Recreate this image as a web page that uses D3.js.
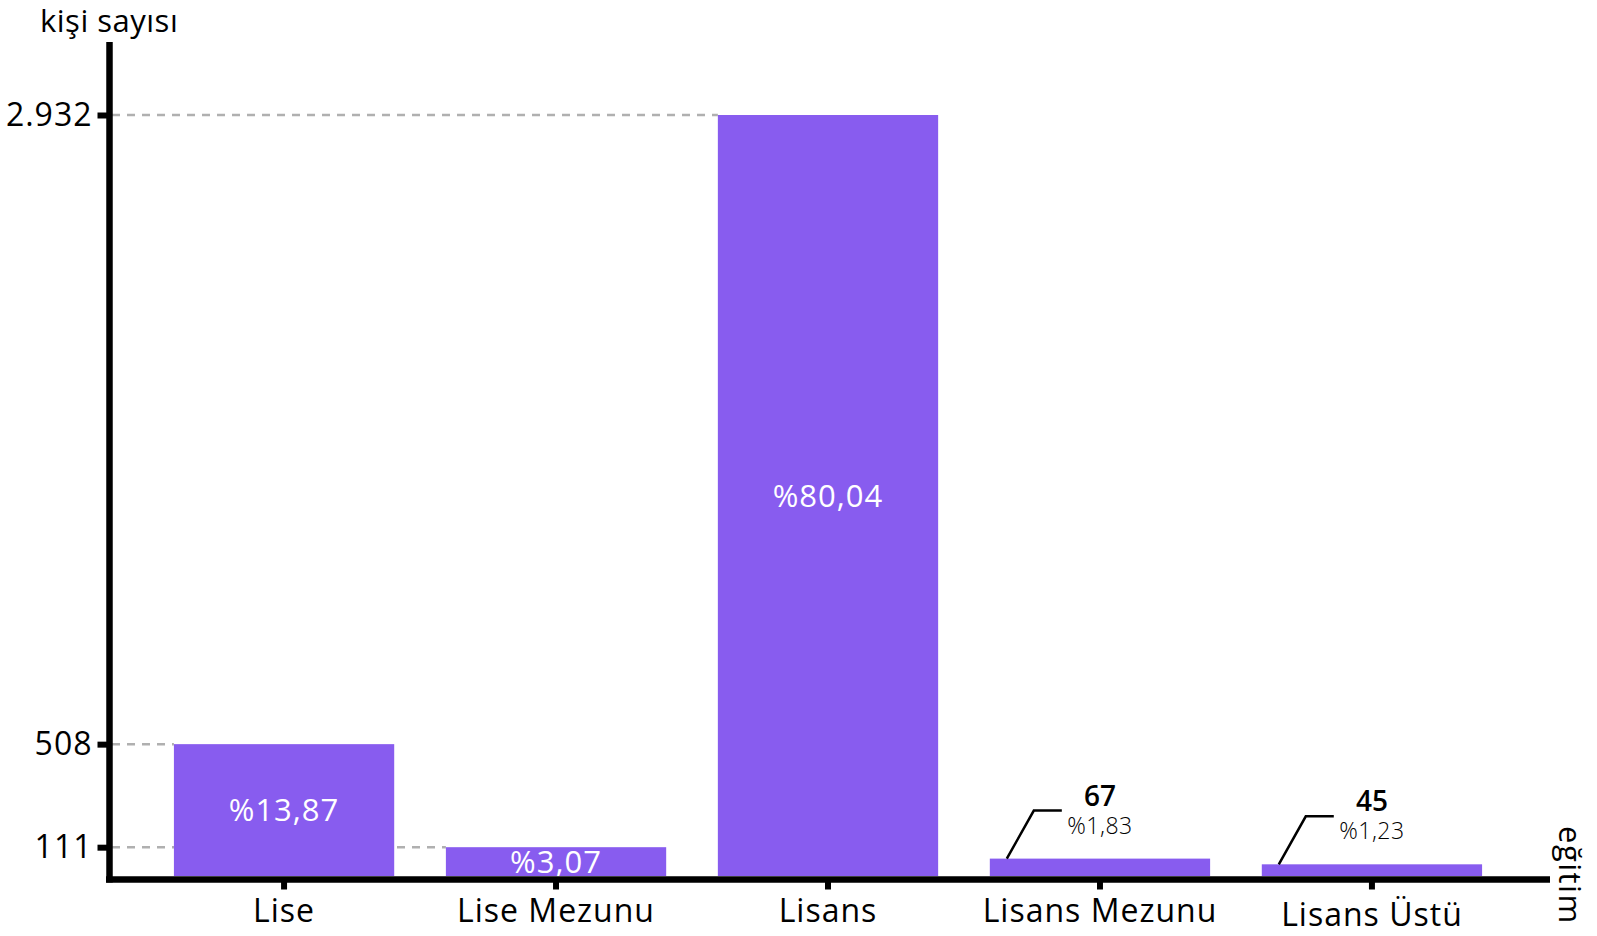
<!DOCTYPE html>
<html>
<head>
<meta charset="utf-8">
<script src="https://cdn.jsdelivr.net/npm/d3@7"></script>
<style>
  body { margin: 0; background: #fff; }
  text { font-family: "Open Sans", "Noto Sans", sans-serif; }
</style>
</head>
<body>
<svg id="chart"></svg>
<script>
const categories = ['Lise', 'Lise Mezunu', 'Lisans', 'Lisans Mezunu', 'Lisans Üstü'];
const counts = [508, 111, 2932, 67, 45];
const percents = [13.87, 3.07, 80.04, 1.83, 1.23];
const yTicks = [111, 508, 2932];

const width = 1597;
const height = 936;
const barColor = '#885cef';

const trLocale = d3.formatLocale({ decimal: ',', thousands: '.', grouping: [3], currency: ['₺', ''] });
const fmtCount = trLocale.format(',d');
const fmtPct = trLocale.format('.2f');

const svg = d3.select('#chart')
  .attr('width', width)
  .attr('height', height);

const x = d3.scaleBand()
  .domain(categories)
  .range([110, 1546])
  .paddingInner(0.19)
  .paddingOuter(0.235);

const y = d3.scaleLinear()
  .domain([0, d3.max(counts)])
  .range([876, 115]);

const data = categories.map((c, i) => ({ cat: c, count: counts[i], pct: percents[i] }));

// dashed guides from the y axis to the first bar that reaches the value
svg.append('g')
  .selectAll('line')
  .data(yTicks)
  .join('line')
  .attr('x1', 112)
  .attr('x2', v => x(data.find(d => d.count === v).cat))
  .attr('y1', v => y(v))
  .attr('y2', v => y(v))
  .attr('stroke', '#b0b0b0')
  .attr('stroke-width', 2.5)
  .attr('stroke-dasharray', '8,7');

// bars
svg.append('g')
  .selectAll('rect')
  .data(data)
  .join('rect')
  .attr('x', d => x(d.cat))
  .attr('y', d => y(d.count))
  .attr('width', x.bandwidth())
  .attr('height', d => y(0) - y(d.count))
  .attr('fill', barColor);

const inside = d => y(0) - y(d.count) > 24;

// percentages inside the big bars
svg.append('g')
  .selectAll('text')
  .data(data.filter(inside))
  .join('text')
  .attr('x', d => x(d.cat) + x.bandwidth() / 2)
  .attr('y', d => (y(d.count) + y(0)) / 2)
  .attr('dy', '0.36em')
  .attr('text-anchor', 'middle')
  .attr('fill', '#fff')
  .attr('font-size', 31)
  .attr('letter-spacing', 1)
  .text(d => '%' + fmtPct(d.pct));

// callouts for the small bars
const call = svg.append('g')
  .selectAll('g')
  .data(data.filter(d => !inside(d)))
  .join('g');

call.append('path')
  .attr('fill', 'none')
  .attr('stroke', '#000')
  .attr('stroke-width', 2.5)
  .attr('d', d => {
    const x0 = x(d.cat), y0 = y(d.count);
    return `M${x0 + 17},${y0} L${x0 + 44},${y0 - 48} L${x0 + 72},${y0 - 48}`;
  });

call.append('text')
  .attr('x', d => x(d.cat) + x.bandwidth() / 2)
  .attr('y', d => y(d.count) - 53)
  .attr('text-anchor', 'middle')
  .attr('font-size', 28)
  .attr('font-weight', 600)
  .text(d => fmtCount(d.count));

call.append('text')
  .attr('x', d => x(d.cat) + x.bandwidth() / 2)
  .attr('y', d => y(d.count) - 25)
  .attr('text-anchor', 'middle')
  .attr('font-size', 23)
  .attr('font-weight', 300)
  .attr('letter-spacing', 0.5)
  .text(d => '%' + fmtPct(d.pct));

// y axis
const yAxis = svg.append('g')
  .attr('transform', 'translate(109.5,0)')
  .call(d3.axisLeft(y).tickValues(yTicks).tickFormat(fmtCount).tickSize(12).tickSizeOuter(0));
yAxis.select('.domain').remove();
yAxis.selectAll('.tick line').attr('stroke', '#000').attr('stroke-width', 6);
yAxis.selectAll('.tick text')
  .attr('x', -17)
  .attr('font-size', 32)
  .attr('letter-spacing', 1)
  .attr('font-family', '"Open Sans", sans-serif')
  .attr('fill', '#000');

// x axis
const xAxis = svg.append('g')
  .attr('transform', 'translate(0,879.5)')
  .call(d3.axisBottom(x).tickSize(10).tickSizeOuter(0));
xAxis.select('.domain').remove();
xAxis.selectAll('.tick line').attr('stroke', '#000').attr('stroke-width', 6);
xAxis.selectAll('.tick text')
  .attr('y', 42)
  .attr('dy', d => /[ÜÖÇŞİĞ]/.test(d) ? 4 : 0)
  .attr('font-size', 32)
  .attr('letter-spacing', 1)
  .attr('font-family', '"Open Sans", sans-serif')
  .attr('fill', '#000');

// axis lines
svg.append('line')
  .attr('x1', 109.5).attr('x2', 109.5)
  .attr('y1', 42).attr('y2', 882.5)
  .attr('stroke', '#000').attr('stroke-width', 6.5);
svg.append('line')
  .attr('x1', 106).attr('x2', 1550)
  .attr('y1', 879.5).attr('y2', 879.5)
  .attr('stroke', '#000').attr('stroke-width', 6.5);

// axis titles
svg.append('text')
  .attr('x', 40)
  .attr('y', 32)
  .attr('font-size', 31)
  .attr('letter-spacing', 0.5)
  .text('kişi sayısı');

svg.append('text')
  .attr('transform', 'translate(1559,826) rotate(90)')
  .attr('font-size', 31)
  .attr('letter-spacing', 1.5)
  .text('eğitim');
</script>
</body>
</html>
